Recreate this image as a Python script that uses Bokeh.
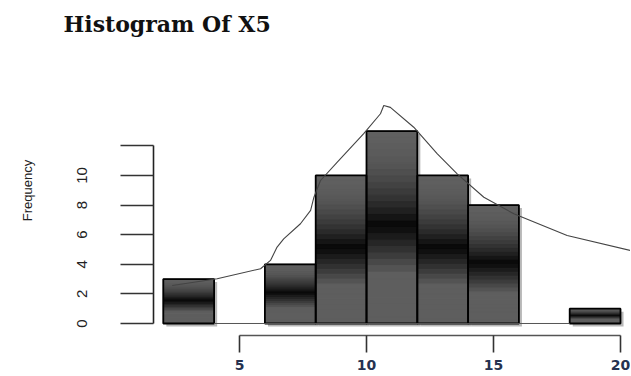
import numpy as np
from bokeh.plotting import figure
from bokeh.models import Range1d, FixedTicker
from bokeh.embed import file_html
from bokeh.resources import INLINE

# ---- data ----
bin_left = [2, 6, 8, 10, 12, 14, 18]
bin_right = [4, 8, 10, 12, 14, 16, 20]
freq = [3, 4, 10, 13, 10, 8, 1]

curve_x = [2.35, 4.12, 5.83, 6.22, 6.48, 6.74, 7.40, 7.80, 7.93, 8.19, 8.85, 9.89,
           10.55, 10.68, 10.94, 11.86, 12.78, 13.57, 14.62, 15.80, 17.90, 20.39]
curve_y = [2.57, 3.02, 3.70, 4.26, 5.16, 5.72, 6.74, 7.64, 8.53, 9.66, 10.9, 12.82,
           14.17, 14.73, 14.6, 13.26, 11.47, 10.11, 8.53, 7.41, 5.95, 4.93]

baseline_x = [4, 18]
baseline_y = [0, 0]

x_ticks = [5, 10, 15, 20]
y_ticks = [0, 2, 4, 6, 8, 10, 12]
y_tick_labels = ["0", "2", "4", "6", "8", "10", ""]

p = figure(width=630, height=375, output_backend="svg", toolbar_location=None,
           x_range=Range1d(1.614, 20.394), y_range=Range1d(-0.811, 18.78),
           min_border_left=153, min_border_right=0, min_border_top=45, min_border_bottom=40)
p.outline_line_color = None
p.grid.visible = False
p.background_fill_color = "white"
p.border_fill_color = "white"

# title
p.title.text = "Histogram Of X5"
p.title.text_font = "DejaVu Serif"
p.title.text_font_style = "bold"
p.title.text_font_size = "22px"
p.title.text_color = "#111111"
p.title.align = "left"
p.title.offset = -90
p.title.standoff = 17

# shadows
p.quad(left=[l + 0.12 for l in bin_left], right=[r + 0.12 for r in bin_right],
       top=[f - 0.2 for f in freq], bottom=[-0.2] * len(freq),
       fill_color="#9a9a9a", fill_alpha=0.7, line_color=None)

# gradient bars
def level(t):
    if t < 0.5:
        return 96 - 92 * (t / 0.5) ** 2.0
    return 10 + 84 * min(1.0, (t - 0.5) / 0.25)

N = 30
sl, sr, st, sb, sc = [], [], [], [], []
for l, r, f in zip(bin_left, bin_right, freq):
    for k in range(N):
        t0, t1 = k / N, (k + 1) / N
        sl.append(l)
        sr.append(r)
        st.append(f - f * t0)
        sb.append(f - f * t1)
        g = int(round(level((t0 + t1) / 2)))
        sc.append("#%02x%02x%02x" % (g, g, g))
p.quad(left=sl, right=sr, top=st, bottom=sb, fill_color=sc, line_color=sc, line_width=1)

p.quad(left=bin_left, right=bin_right, top=freq, bottom=[0] * len(freq),
       fill_color=None, line_color="black", line_width=1.8)

p.line(baseline_x, baseline_y, line_color="#555555", line_width=1)
p.line(curve_x, curve_y, line_color="#444444", line_width=1.1)

# y axis
ya = p.yaxis[0]
ya.ticker = FixedTicker(ticks=y_ticks)
ya.major_label_overrides = {t: s for t, s in zip(y_ticks, y_tick_labels)}
ya.bounds = (0, 12)
ya.major_tick_out = 33
ya.major_tick_in = 0
ya.minor_tick_out = 0
ya.minor_tick_in = 0
ya.major_label_orientation = "vertical"
ya.major_label_standoff = 33
ya.major_label_text_font = "Liberation Sans"
ya.major_label_text_font_size = "15px"
ya.major_label_text_color = "#222222"
ya.axis_line_color = "#222222"
ya.axis_line_width = 1.6
ya.major_tick_line_color = "#333333"
ya.major_tick_line_width = 1.4
ya.axis_label = "Frequency"
ya.axis_label_standoff = 40
ya.axis_label_text_font = "Liberation Sans"
ya.axis_label_text_font_style = "normal"
ya.axis_label_text_font_size = "13px"
ya.axis_label_text_color = "#222222"

# x axis
xa = p.xaxis[0]
xa.ticker = FixedTicker(ticks=x_ticks)
xa.bounds = (5, 20)
xa.major_tick_out = 17
xa.major_tick_in = 0
xa.minor_tick_out = 0
xa.minor_tick_in = 0
xa.major_label_standoff = 7
xa.major_label_text_font = "DejaVu Sans"
xa.major_label_text_font_style = "bold"
xa.major_label_text_font_size = "14px"
xa.major_label_text_color = "#263250"
xa.axis_line_color = "#555555"
xa.axis_line_width = 1.3
xa.major_tick_line_color = "#333333"
xa.major_tick_line_width = 1.6

open("out.html", "w").write(file_html(p, INLINE))
